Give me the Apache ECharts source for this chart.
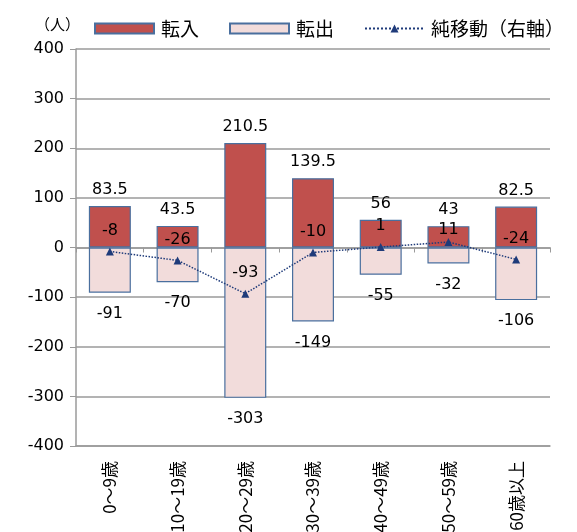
<!DOCTYPE html>
<html><head><meta charset="utf-8">
<script src="https://cdn.jsdelivr.net/npm/echarts@6/dist/echarts.min.js"></script>
<style>html,body{margin:0;padding:0;background:#fff}#c{width:577px;height:532px}</style>
</head><body><div id="c"></div>
<script>
const categories = ['0～9歳','10～19歳','20～29歳','30～39歳','40～49歳','50～59歳','60歳以上'];
const inflow = [83.5, 43.5, 210.5, 139.5, 56, 43, 82.5];
const outflow = [-91, -70, -303, -149, -55, -32, -106];
const net = [-8, -26, -93, -10, 1, 11, -24];
const yTicks = {min: -400, max: 400, interval: 100};

const FONT = '"DejaVu Sans","Noto Sans CJK JP",sans-serif';
const JFONT = '"Noto Sans CJK JP","DejaVu Sans",sans-serif';
const chart = echarts.init(document.getElementById('c'), null, {renderer: 'canvas'});
// the label of the 50～59 point sits closer to its marker in the original
const netData = net.map((v, i) => i === 5 ? {value: v, label: {distance: 0}} : v);
chart.setOption({
  animation: false,
  backgroundColor: '#fff',
  title: {text: '（人）', left: 30, top: 12, textStyle: {fontFamily: JFONT, fontSize: 15, fontWeight: 'normal', color: '#000'}},
  legend: {
    left: 89, top: 14, itemWidth: 59, itemHeight: 10, itemGap: 30,
    textStyle: {fontFamily: JFONT, fontSize: 19, color: '#000', padding: [0,0,0,2]},
    data: [{name: '転入', icon: 'rect'}, {name: '転出', icon: 'rect'}, {name: '純移動（右軸）'}]
  },
  grid: {left: 76, right: 27, top: 49, bottom: 86, containLabel: false, outerBoundsMode: 'none'},
  xAxis: [{
    type: 'category', data: categories, position: 'bottom',
    axisLine: {onZero: false, lineStyle: {color: '#9a9a9a', width: 1.5}},
    axisTick: {show: false},
    axisLabel: {rotate: 90, margin: 15, fontFamily: JFONT, fontSize: 17, color: '#000', interval: 0}
  }, {
    type: 'category', data: categories, position: 'bottom',
    axisLine: {onZero: true, lineStyle: {color: '#9a9a9a', width: 1.5}},
    axisTick: {show: true, length: 5, lineStyle: {color: '#9a9a9a'}},
    axisLabel: {show: false}
  }],
  yAxis: [{
    type: 'value', min: yTicks.min, max: yTicks.max, interval: yTicks.interval,
    axisLine: {show: true, lineStyle: {color: '#9a9a9a', width: 1.5}},
    axisTick: {show: true, length: 6, lineStyle: {color: '#9a9a9a'}},
    splitLine: {lineStyle: {color: '#9a9a9a', width: 1.5}},
    axisLabel: {fontFamily: FONT, fontSize: 16, color: '#000', margin: 12}
  }, {
    type: 'value', min: yTicks.min, max: yTicks.max, interval: yTicks.interval, show: false
  }],
  series: [{
    name: '転入', type: 'bar', stack: 'a', data: inflow, barWidth: '62%',
    itemStyle: {color: '#C0504D', borderColor: '#4A6F9E', borderWidth: 1.2},
    label: {show: true, position: 'top', distance: 8, fontFamily: FONT, fontSize: 16, color: '#000'}
  }, {
    name: '転出', type: 'bar', stack: 'a', data: outflow,
    itemStyle: {color: '#F2DCDB', borderColor: '#4A6F9E', borderWidth: 1.2},
    label: {show: true, position: 'bottom', distance: 13, fontFamily: FONT, fontSize: 16, color: '#000'}
  }, {
    name: '純移動（右軸）', type: 'line', yAxisIndex: 1, data: netData,
    symbol: 'triangle', symbolSize: 8,
    lineStyle: {type: 'dotted', color: '#1F3B7A', width: 1.5},
    itemStyle: {color: '#1F3B7A'},
    label: {show: true, position: 'top', distance: 9, fontFamily: FONT, fontSize: 16, color: '#000'},
    z: 5
  }]
});
</script></body></html>
